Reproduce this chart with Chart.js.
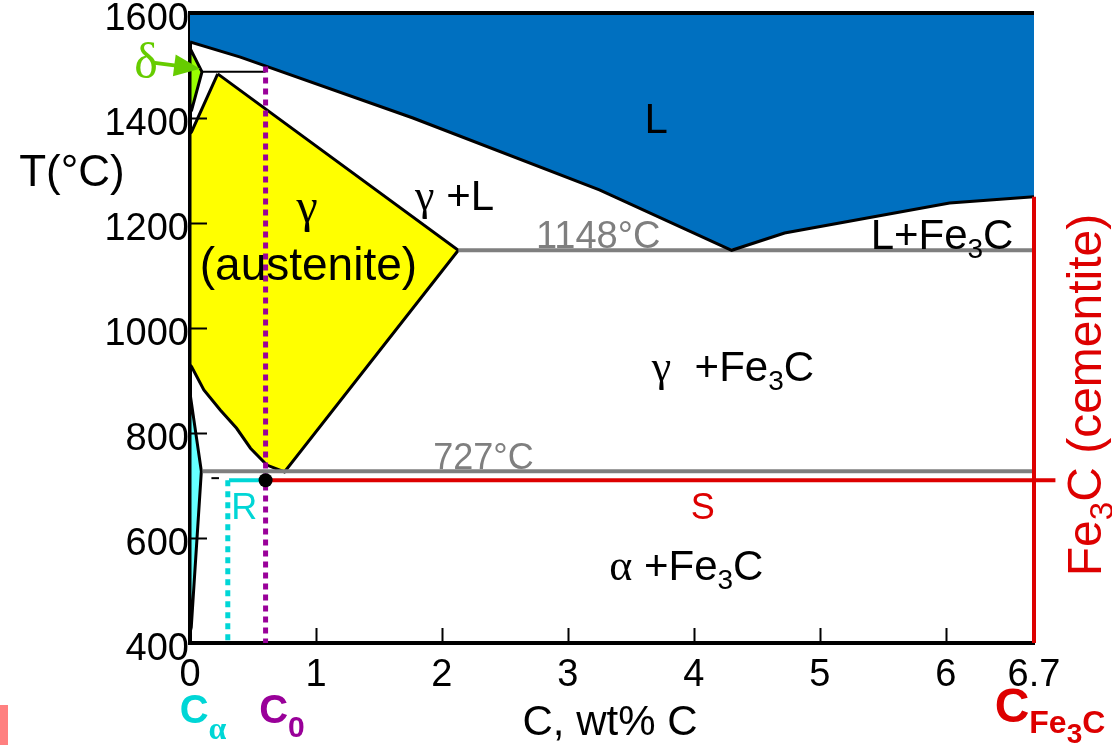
<!DOCTYPE html>
<html>
<head>
<meta charset="utf-8">
<script src="https://cdn.jsdelivr.net/npm/chart.js@4.4.1/dist/chart.umd.min.js"></script>
<style>
  html, body { margin: 0; padding: 0; background: #fff; }
  #wrap { width: 1112px; height: 745px; position: relative; }
</style>
</head>
<body>
<div id="wrap"><canvas id="chart"></canvas></div>
<script>
// axis ticks
const xTicks = [0, 1, 2, 3, 4, 5, 6, 6.7];
const yTicks = [400, 600, 800, 1000, 1200, 1400, 1600];

// phase boundaries as [wt% C, T in °C]
const liquidRegion = [[0, 1600], [6.7, 1600], [6.7, 1250], [6.03, 1238], [4.72, 1181], [4.3, 1148],
  [3.25, 1263], [1.77, 1400], [0.4, 1516], [0, 1545]];
const liquidus = [[0, 1545], [0.4, 1516], [1.77, 1400], [3.25, 1263], [4.3, 1148], [4.72, 1181], [6.03, 1238], [6.7, 1250]];
const deltaRegion = [[0, 1533], [0.095, 1488], [0.013, 1415], [0, 1410]];
const gammaRegion = [[0.22, 1484], [2.13, 1148], [0.75, 726], [0.61, 739], [0.48, 771], [0.37, 809],
  [0.24, 844], [0.11, 882], [0.013, 926], [0, 930], [0, 1370], [0.013, 1374]];
const alphaRegion = [[0, 876], [0.09, 727], [0.01, 430], [0, 420]];
const peritectic = [[0.095, 1488], [0.6, 1488]];
const eutectic = [[2.13, 1148], [6.7, 1148]];
const eutectoid = [[0.1, 727], [6.7, 727]];
const cementite = [[6.7, 400], [6.7, 1250]];

// lever rule construction at C0
const tieS = [[0.6, 710], [6.87, 710]];
const tieR = [[0.31, 710], [0.6, 710]];
const tieMark = [[0.17, 714], [0.23, 714]];
const c0Line = [[0.6, 1498], [0.6, 400]];
const cAlphaLine = [[0.3, 710], [0.3, 400]];
const c0Point = [[0.6, 710]];

const SANS = '"Liberation Sans", Arial, sans-serif';
const SERIF = '"Liberation Serif", "Times New Roman", serif';
const RED = '#DD0000', CYAN = '#00D6D6', PURPLE = '#990099', GRAY = '#7F7F7F';

const pts = (a) => a.map(([x, y]) => ({ x, y }));

function area(a, color, order, border = '#000') {
    return {
        data: pts([...a, a[0]]), showLine: true, fill: 'shape', backgroundColor: color,
        borderColor: border, borderWidth: 3, pointRadius: 0, order,
    };
}

function line(a, color, width, order, dash = [], clip = undefined) {
    const ds = {
        data: pts(a), showLine: true, fill: false, borderColor: color, borderWidth: width,
        borderDash: dash, borderCapStyle: 'butt', pointRadius: 0, order,
    };
    if (clip !== undefined) ds.clip = clip;
    return ds;
}

// text labels: x/y in data units, runs = [text, font, dy]
const notes = [
    { x: 3.70, y: 1371, color: '#000', runs: [['L', `42px ${SANS}`]] },
    { x: 2.10, y: 1225, color: '#000', runs: [['γ', `44px ${SERIF}`], [' +L', `42px ${SANS}`]] },
    { x: 3.24, y: 1153, color: GRAY, runs: [['1148°C', `38px ${SANS}`]] },
    { x: 5.97, y: 1150, color: '#000', runs: [['L+Fe', `42px ${SANS}`], ['3', `28px ${SANS}`, 9], ['C', `42px ${SANS}`]] },
    { x: 0.93, y: 1202, color: '#000', runs: [['γ', `48px ${SERIF}`]] },
    { x: 0.94, y: 1091, color: '#000', runs: [['(austenite)', `46px ${SANS}`]] },
    { x: 4.31, y: 899, color: '#000', runs: [['γ', `44px ${SERIF}`], ['  +Fe', `42px ${SANS}`], ['3', `28px ${SANS}`, 9], ['C', `42px ${SANS}`]] },
    { x: 2.33, y: 732, color: GRAY, runs: [['727°C', `36px ${SANS}`]] },
    { x: 4.07, y: 636, color: RED, runs: [['S', `36px ${SANS}`]] },
    { x: 0.43, y: 636, color: CYAN, runs: [['R', `36px ${SANS}`]] },
    { x: 3.94, y: 520, color: '#000', runs: [['α', `44px ${SERIF}`], [' +Fe', `42px ${SANS}`], ['3', `28px ${SANS}`, 9], ['C', `42px ${SANS}`]] },
    { x: -0.35, y: 1476, color: '#66CC00', runs: [['δ', `50px ${SERIF}`]] },
];

function drawRuns(ctx, runs, cx, cy, color) {
    ctx.save();
    ctx.fillStyle = color;
    ctx.textBaseline = 'alphabetic';
    ctx.textAlign = 'left';
    let total = 0;
    runs.forEach(([t, f]) => { ctx.font = f; total += ctx.measureText(t).width; });
    let x = cx - total / 2;
    runs.forEach(([t, f, dy]) => {
        ctx.font = f;
        ctx.fillText(t, x, cy + (dy || 0));
        x += ctx.measureText(t).width;
    });
    ctx.restore();
}

const decor = {
    id: 'decor',
    afterDatasetsDraw(chart) {
        const { ctx, chartArea: a, scales: { x, y } } = chart;
        ctx.save();
        ctx.strokeStyle = '#000';
        ctx.lineWidth = 2;
        // inward tick marks
        yTicks.slice(1, -1).forEach((v) => {
            const py = Math.round(y.getPixelForValue(v)) + 0.5;
            ctx.beginPath(); ctx.moveTo(a.left, py); ctx.lineTo(a.left + 17, py); ctx.stroke();
        });
        xTicks.slice(1, -1).forEach((v) => {
            const px = Math.round(x.getPixelForValue(v)) + 0.5;
            ctx.beginPath(); ctx.moveTo(px, a.bottom); ctx.lineTo(px, a.bottom - 15); ctx.stroke();
        });
        // top frame
        ctx.lineWidth = 4;
        ctx.beginPath(); ctx.moveTo(a.left - 2, a.top); ctx.lineTo(a.right, a.top); ctx.stroke();
        ctx.restore();
    },
    afterDraw(chart) {
        const { ctx, scales: { x, y } } = chart;
        notes.forEach((n) => drawRuns(ctx, n.runs, x.getPixelForValue(n.x), y.getPixelForValue(n.y), n.color));

        // delta arrow
        const x0 = x.getPixelForValue(-0.28), y0 = y.getPixelForValue(1505);
        const x1 = x.getPixelForValue(0.08), y1 = y.getPixelForValue(1494);
        const ang = Math.atan2(y1 - y0, x1 - x0);
        ctx.save();
        ctx.strokeStyle = '#66CC00'; ctx.fillStyle = '#66CC00'; ctx.lineWidth = 4;
        ctx.beginPath(); ctx.moveTo(x0, y0);
        ctx.lineTo(x1 - 20 * Math.cos(ang), y1 - 20 * Math.sin(ang)); ctx.stroke();
        ctx.translate(x1, y1); ctx.rotate(ang);
        ctx.beginPath(); ctx.moveTo(0, 0); ctx.lineTo(-26, -11); ctx.lineTo(-26, 11); ctx.closePath(); ctx.fill();
        ctx.restore();

        // axis titles and composition labels
        drawRuns(ctx, [['T(°C)', `44px ${SANS}`]], 72, 186, '#000');
        drawRuns(ctx, [['C, wt% C', `42px ${SANS}`]], 610, 735, '#000');
        drawRuns(ctx, [['C', `bold 40px ${SANS}`], ['α', `bold 32px ${SERIF}`, 16]], 203, 723, CYAN);
        drawRuns(ctx, [['C', `bold 40px ${SANS}`], ['0', `bold 30px ${SANS}`, 14]], 282, 723, PURPLE);
        drawRuns(ctx, [['C', `bold 48px ${SANS}`], ['Fe', `bold 32px ${SANS}`, 11], ['3', `bold 28px ${SANS}`, 21], ['C', `bold 32px ${SANS}`, 11]], 1050, 722, RED);

        ctx.save();
        ctx.translate(1101, 395);
        ctx.rotate(-Math.PI / 2);
        drawRuns(ctx, [['Fe', `48px ${SANS}`], ['3', `33px ${SANS}`, 12], ['C (cementite)', `48px ${SANS}`]], 0, 0, RED);
        ctx.restore();

        ctx.fillStyle = '#FF8080';
        ctx.fillRect(0, 705, 8, 40);
    },
};

const datasets = [
    area(liquidRegion, '#0070C0', 14, 'rgba(0,0,0,0)'),
    area(deltaRegion, '#99FF00', 13),
    area(gammaRegion, '#FFFF00', 12),
    area(alphaRegion, '#66FFFF', 11),
    line(eutectic, GRAY, 4, 10),
    line(eutectoid, GRAY, 4, 9),
    line(liquidus, '#000', 3, 8),
    line(peritectic, '#000', 2, 7),
    line(tieMark, '#000', 2, 6),
    line(cementite, RED, 4, 5, [], false),
    line(tieS, RED, 4, 4, [], false),
    line(tieR, CYAN, 4, 3),
    line(cAlphaLine, CYAN, 5, 2, [6, 5]),
    line(c0Line, PURPLE, 5, 1, [6, 5]),
    { data: pts(c0Point), showLine: false, pointRadius: 7, pointBackgroundColor: '#000', pointBorderWidth: 0, order: 0 },
];

new Chart(document.getElementById('chart').getContext('2d'), {
    type: 'scatter',
    data: { datasets },
    options: {
        responsive: true,
        maintainAspectRatio: false,
        animation: false,
        layout: { padding: { top: 13, right: 78, left: 0, bottom: 0 } },
        plugins: { legend: { display: false }, tooltip: { enabled: false } },
        scales: {
            x: {
                type: 'linear', min: 0, max: 6.7, z: 1,
                afterBuildTicks: (s) => { s.ticks = xTicks.map((v) => ({ value: v })); },
                afterFit: (s) => { s.height = 102; s.paddingLeft = 0; s.paddingRight = 0; },
                grid: { display: false, drawTicks: false },
                border: { display: true, color: '#000', width: 4 },
                ticks: {
                    color: '#000', font: { family: SANS, size: 38 }, padding: 10,
                    maxRotation: 0, autoSkip: false, callback: (v) => String(v),
                },
            },
            y: {
                type: 'linear', min: 400, max: 1600, z: 1,
                afterBuildTicks: (s) => { s.ticks = yTicks.map((v) => ({ value: v })); },
                afterFit: (s) => { s.width = 190; s.paddingTop = 0; s.paddingBottom = 0; },
                grid: { display: false, drawTicks: false },
                border: { display: true, color: '#000', width: 4 },
                ticks: {
                    color: '#000', font: { family: SANS, size: 38 }, padding: 1, labelOffset: 7,
                    callback: (v) => String(v),
                },
            },
        },
    },
    plugins: [decor],
});
</script>
</body>
</html>
